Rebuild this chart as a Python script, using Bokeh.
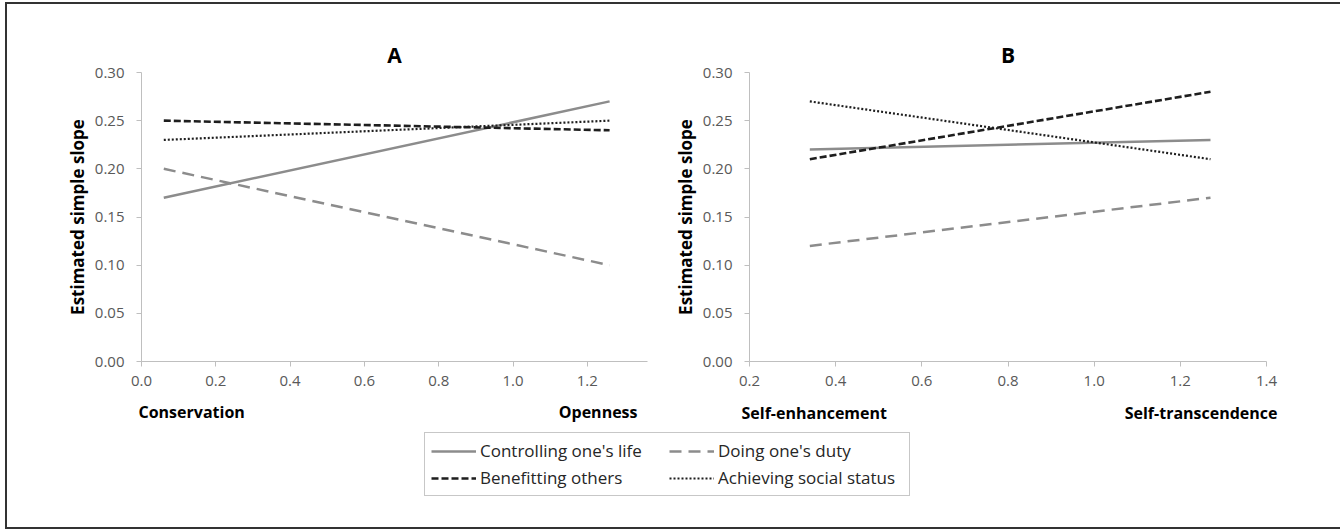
from bokeh.plotting import figure
from bokeh.layouts import column, row
from bokeh.models import (Label, Legend, LegendItem, FixedTicker,
                          CustomJSTickFormatter, Title)
from bokeh.embed import file_html
from bokeh.resources import INLINE

# Panel A: Conservation (low) to Openness (high)
x_a = [0.06, 1.26]
controlling_a = [0.17, 0.27]
duty_a = [0.20, 0.10]
benefitting_a = [0.25, 0.24]
status_a = [0.23, 0.25]

# Panel B: Self-enhancement (low) to Self-transcendence (high)
x_b = [0.34, 1.27]
controlling_b = [0.22, 0.23]
duty_b = [0.12, 0.17]
benefitting_b = [0.21, 0.28]
status_b = [0.27, 0.21]

series_names = ["Controlling one's life", "Doing one's duty",
                "Benefitting others", "Achieving social status"]
y_ticks = [0.0, 0.05, 0.10, 0.15, 0.20, 0.25, 0.30]
x_ticks_a = [0.0, 0.2, 0.4, 0.6, 0.8, 1.0, 1.2]
x_ticks_b = [0.2, 0.4, 0.6, 0.8, 1.0, 1.2, 1.4]

FONT = "Open Sans"
GRAY = "#8c8c8c"
DARK = "#1e1e1e"
AXIS = "#bfbfbf"
TICKTXT = "#595959"

styles = [
    dict(line_color=GRAY, line_width=2.5, line_dash="solid"),
    dict(line_color=GRAY, line_width=2.5, line_dash="12 7"),
    dict(line_color=DARK, line_width=2.6, line_dash="7 3"),
    dict(line_color=DARK, line_width=2.2, line_dash="2 2"),
]


def make_panel(width, height, xr, ticks_x, borders, xs, ys, title, title_offset):
    p = figure(width=width, height=height, x_range=xr, y_range=(0, 0.30),
               output_backend="svg", toolbar_location=None,
               min_border_left=borders[0], min_border_right=borders[1],
               min_border_top=borders[2], min_border_bottom=borders[3])
    p.outline_line_color = None
    p.grid.visible = False
    p.background_fill_color = "white"
    p.border_fill_color = "white"
    for ax in (p.xaxis[0], p.yaxis[0]):
        ax.axis_line_color = AXIS
        ax.major_tick_line_color = AXIS
        ax.minor_tick_line_color = None
        ax.major_tick_in = 0
        ax.major_tick_out = 5
        ax.major_label_text_font = FONT
        ax.major_label_text_font_size = "15px"
        ax.major_label_text_color = TICKTXT
    p.xaxis.ticker = FixedTicker(ticks=ticks_x)
    p.yaxis.ticker = FixedTicker(ticks=y_ticks)
    p.xaxis.formatter = CustomJSTickFormatter(code="return tick.toFixed(1);")
    p.yaxis.formatter = CustomJSTickFormatter(code="return tick.toFixed(2);")
    p.xaxis.major_label_standoff = 9
    p.yaxis.major_label_standoff = 12
    p.yaxis.axis_label = "Estimated simple slope"
    p.yaxis.axis_label_text_font = FONT
    p.yaxis.axis_label_text_font_size = "17px"
    p.yaxis.axis_label_text_font_style = "bold"
    p.yaxis.axis_label_text_color = "black"
    p.yaxis.axis_label_standoff = 3

    p.title = Title(text=title, align="center", offset=title_offset,
                    text_font=FONT, text_font_size="21px",
                    text_font_style="bold", text_color="black", standoff=8)

    for vals, st in zip(ys, styles):
        p.line(xs, vals, line_cap="butt", **st)
    return p


PANEL_H = 395
pa = make_panel(663, PANEL_H, (0, 1.362), x_ticks_a, (134, 23, 64, 38), x_a,
                [controlling_a, duty_a, benefitting_a, status_a], "A", 3)

pb = make_panel(670, PANEL_H, (0.2, 1.4), x_ticks_b, (77, 74, 68, 35), x_b,
                [controlling_b, duty_b, benefitting_b, status_b], "B", -10)

# Bottom strip: pole labels under each panel and the shared legend.
# Its ranges are in pixels, so text positions are given in px.
STRIP_W, STRIP_H = 1333, 128
pl = figure(width=STRIP_W, height=STRIP_H, x_range=(0, STRIP_W),
            y_range=(0, STRIP_H), output_backend="svg",
            toolbar_location=None, min_border=0)
pl.axis.visible = False
pl.grid.visible = False
pl.outline_line_color = None

poles = [("Conservation", 131, 116, "left"),
         ("Openness", 630, 116, "right"),
         ("Self-enhancement", 734, 115, "left"),
         ("Self-transcendence", 1270, 115, "right")]
for txt, px, py, al in poles:
    pl.add_layout(Label(x=px, y=py, text=txt, text_font=FONT,
                        text_font_size="16px", text_font_style="bold",
                        text_color="black", text_align=al,
                        text_baseline="middle"))

items = []
for name, vals, st in zip(series_names,
                          [controlling_a, duty_a, benefitting_a, status_a],
                          styles):
    r = pl.line(x=x_a, y=vals, line_cap="butt", visible=False, **st)
    items.append(LegendItem(label=name, renderers=[r]))
legend = Legend(items=items, ncols=2, location=(417, 31),
                orientation="horizontal",
                label_text_font=FONT, label_text_font_size="17px",
                label_text_color="#262626",
                glyph_width=45, glyph_height=18, label_height=18,
                label_standoff=4, label_width=185, spacing=4, padding=6,
                margin=0, border_line_color="#8f8f8f", border_line_width=1.2,
                background_fill_alpha=1)
pl.add_layout(legend, "center")

page = column(row(pa, pb), pl,
              styles={"border-left": "2px solid #333",
                      "border-top": "2px solid #333",
                      "border-bottom": "2px solid #333",
                      "margin-left": "5px", "margin-top": "2px"})

open("out.html", "w").write(file_html(page, INLINE))
